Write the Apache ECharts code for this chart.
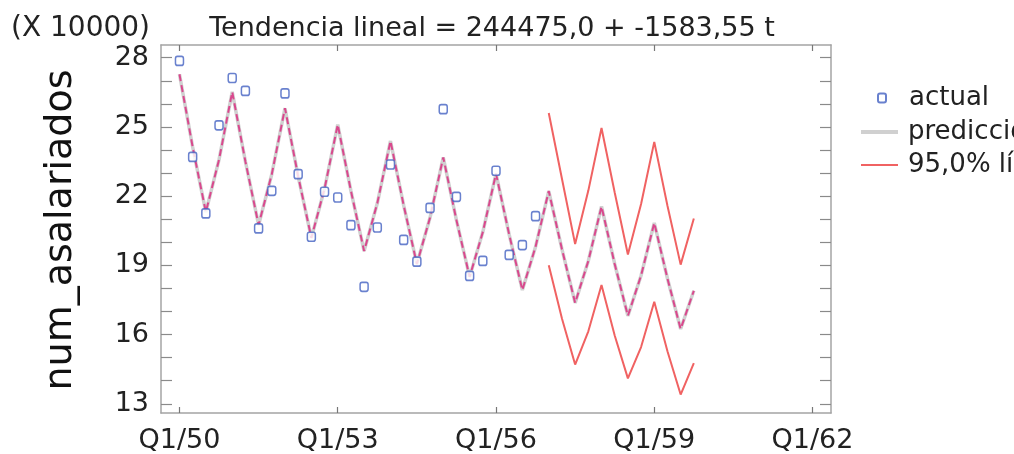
<!DOCTYPE html>
<html><head><meta charset="utf-8">
<script src="https://cdn.jsdelivr.net/npm/echarts@6/dist/echarts.min.js"></script>
<style>html,body{margin:0;padding:0;background:#fff}#c{width:1014px;height:454px}</style>
</head><body><div id="c"></div>
<script>
// ---- data (values in units of 10000) ----
const xTickPositions = [0, 12, 24, 36, 48];
const xTickLabels = ['Q1/50', 'Q1/53', 'Q1/56', 'Q1/59', 'Q1/62'];
const yTickLabels = [13, 16, 19, 22, 25, 28];
const yMinorTicks = [13, 14, 15, 16, 17, 18, 19, 20, 21, 22, 23, 24, 25, 26, 27, 28];
// actual: Q1/50 .. Q4/56
const actual = [27.86, 23.70, 21.25, 25.07, 27.12, 26.56, 20.60, 22.23, 26.45, 22.95,
  20.24, 22.19, 21.94, 20.74, 18.07, 20.64, 23.37, 20.10, 19.16, 21.49,
  25.77, 21.97, 18.54, 19.19, 23.10, 19.45, 19.88, 21.13];
// prediccion: Q1/50 .. Q4/59
const prediccion = [27.28, 24.13, 21.31, 23.58, 26.52, 23.50, 20.75, 22.95, 25.81, 22.86,
  20.19, 22.32, 25.10, 22.23, 19.62, 21.69, 24.39, 21.60, 19.06, 21.07,
  23.68, 20.96, 18.50, 20.44, 22.97, 20.33, 17.93, 19.81, 22.22, 19.70,
  17.37, 19.19, 21.55, 19.06, 16.81, 18.56, 20.84, 18.43, 16.24, 17.90];
// 95% limits: Q1/57 .. Q4/59
const limitStartIndex = 28;
const limiteSuperior = [25.60, 22.75, 19.92, 22.24, 24.95, 22.16, 19.47, 21.66, 24.35, 21.58, 19.03, 21.03];
const limiteInferior = [19.00, 16.70, 14.70, 16.14, 18.15, 15.96, 14.10, 15.46, 17.42, 15.28, 13.40, 14.76];

const titleText = 'Tendencia lineal = 244475,0 + -1583,55 t';
const scaleText = '(X 10000)';
const yName = 'num_asalariados';

const FONT = 'DejaVu Sans';
const chart = echarts.init(document.getElementById('c'), null, {renderer: 'canvas'});

const xLabelFmt = v => { const k = xTickPositions.indexOf(Math.round(v)); return k >= 0 ? xTickLabels[k] : ''; };
const frameColor = '#a4a4a4';

const baseX = {
  type: 'value', min: -1.4, max: 49.4,
  axisLine: {show: true, onZero: false, lineStyle: {color: frameColor, width: 1.5}},
  splitLine: {show: false},
  axisTick: {show: true, inside: true, length: 6, customValues: xTickPositions, lineStyle: {color: '#777', width: 1.2}}
};
const baseY = {
  type: 'value', min: 12.6, max: 28.55,
  axisLine: {show: true, onZero: false, lineStyle: {color: frameColor, width: 1.5}},
  splitLine: {show: false},
  axisTick: {show: true, inside: true, length: 11, customValues: yMinorTicks, lineStyle: {color: '#8a8a8a', width: 1.2}}
};
const legendText = {fontFamily: FONT, fontSize: 26, lineHeight: 26, color: '#222'};

const option = {
  backgroundColor: '#fff',
  animation: false,
  grid: {left: 161, right: 183, top: 45, bottom: 41, containLabel: false, outerBoundsMode: 'none'},
  xAxis: [
    Object.assign({}, baseX, {position: 'bottom',
      axisLabel: {show: true, customValues: xTickPositions, formatter: xLabelFmt, margin: 14,
        fontFamily: FONT, fontSize: 27, color: '#222'}}),
    Object.assign({}, baseX, {position: 'top', axisLabel: {show: false}})
  ],
  yAxis: [
    Object.assign({}, baseY, {position: 'left',
      axisLabel: {show: true, customValues: yTickLabels, margin: 12,
        fontFamily: FONT, fontSize: 27, color: '#222'}}),
    Object.assign({}, baseY, {position: 'right', axisLabel: {show: false}})
  ],
  legend: [
    {data: ['actual'], orient: 'vertical', left: 872, top: 80, itemWidth: 8, itemHeight: 9,
      textStyle: Object.assign({padding: [0, 0, 0, 18]}, legendText)},
    {data: [{name: 'predicción', icon: 'rect'}], orient: 'vertical', left: 856, top: 114,
      itemWidth: 37, itemHeight: 4,
      textStyle: Object.assign({padding: [0, 0, 0, 5]}, legendText)},
    {data: [{name: '95,0% límites', icon: 'rect'}], orient: 'vertical', left: 856, top: 147,
      itemWidth: 37, itemHeight: 2,
      textStyle: Object.assign({padding: [0, 0, 0, 5]}, legendText)}
  ],
  graphic: [
    {type: 'text', left: 11, top: 15, style: {text: scaleText, font: '28px "' + FONT + '"', fill: '#222'}},
    {type: 'text', x: 492, y: 29, style: {text: titleText, font: '27px "' + FONT + '"', fill: '#222',
      textAlign: 'center', textVerticalAlign: 'middle'}},
    {type: 'text', x: 61, y: 230, rotation: Math.PI / 2,
      style: {text: yName, font: '38px "' + FONT + '"', fill: '#111', textAlign: 'center', textVerticalAlign: 'middle'}}
  ],
  series: [
    {name: 'predicción', type: 'line', symbol: 'none', z: 2,
      data: prediccion.map((v, i) => [i, v]),
      lineStyle: {color: '#d0d0d0', width: 3.5}, itemStyle: {color: '#d0d0d0'}},
    {name: 'predOverlay', type: 'line', symbol: 'none', z: 3,
      data: prediccion.map((v, i) => [i, v]),
      lineStyle: {color: '#d9488d', width: 2, type: [7, 4]}, itemStyle: {color: '#d9488d'}},
    {name: '95,0% límites', type: 'line', symbol: 'none', z: 3,
      data: limiteSuperior.map((v, i) => [i + limitStartIndex, v]),
      lineStyle: {color: '#f06262', width: 2}, itemStyle: {color: '#f06262'}},
    {name: '95,0% límites', type: 'line', symbol: 'none', z: 3,
      data: limiteInferior.map((v, i) => [i + limitStartIndex, v]),
      lineStyle: {color: '#f06262', width: 2}, itemStyle: {color: '#f06262'}},
    {name: 'actual', type: 'scatter', symbol: 'roundRect', symbolSize: [8, 9], z: 5,
      data: actual.map((v, i) => [i, v]),
      itemStyle: {color: '#ffffff', borderColor: '#4361c2', borderWidth: 1.6}}
  ]
};
chart.setOption(option);
</script></body></html>
